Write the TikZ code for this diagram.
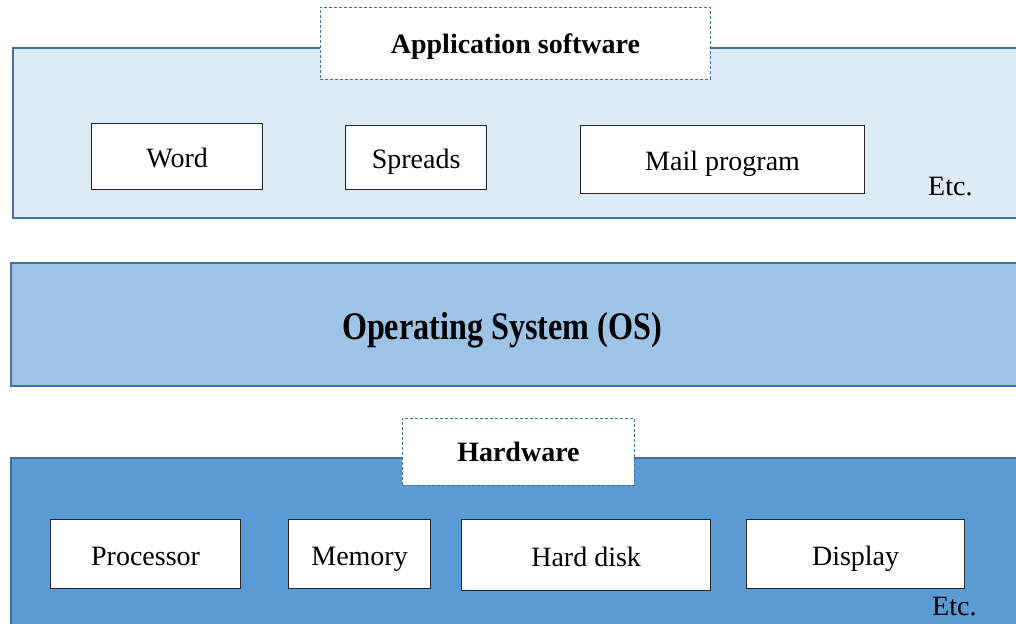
\documentclass[tikz,border=0pt]{standalone}
\usepackage{fontspec}
\setmainfont{Liberation Serif}
\definecolor{edgeblue}{HTML}{41719C}
\definecolor{appfill}{HTML}{DEEAF6}
\definecolor{osfill}{HTML}{9DC3E6}
\definecolor{hwfill}{HTML}{5B9BD5}
\tikzset{
  panel/.style={draw=edgeblue, line width=2.2pt, anchor=north west, inner sep=0pt},
  labelbox/.style={draw=edgeblue, fill=white, dashed, dash pattern=on 3pt off 2pt, line width=0.9pt, anchor=north west, inner sep=0pt, text height=22pt, text depth=2pt, font=\fontsize{28}{30}\selectfont\bfseries},
  itembox/.style={draw=black!85, fill=white, line width=1.2pt, anchor=north west, inner sep=0pt, text height=24pt, text depth=2pt, font=\fontsize{28}{30}\selectfont},
  etc/.style={anchor=base west, inner sep=0pt, font=\fontsize{28}{30}\selectfont}
}
\begin{document}
\begin{tikzpicture}[x=1pt,y=-1pt]
\useasboundingbox (0,0) rectangle (1016,623);
\clip (0,0) rectangle (1016,623);
% application layer
\node[panel, fill=appfill, minimum width=1030pt, minimum height=170pt] (app) at (12,47) {};
\node[labelbox, minimum width=390pt, minimum height=72pt] (applabel) at (320,7) {Application software};
\node[itembox, minimum width=171pt, minimum height=66pt] (word) at (91,123) {Word};
\node[itembox, minimum width=141pt, minimum height=64pt] (spreads) at (345,125) {Spreads};
\node[itembox, minimum width=284pt, minimum height=68pt] (mail) at (580,125) {Mail program};
\node[etc] (etc1) at (928,195) {Etc.};
% operating system
\node[panel, fill=osfill, minimum width=1030pt, minimum height=123pt] (os) at (10,262) {};
\node[inner sep=0pt, anchor=base] (oslabel) at (502,339) {\scalebox{0.825}[1]{\fontsize{39}{41}\selectfont\bfseries Operating System (OS)}};
% hardware layer
\node[panel, fill=hwfill, minimum width=1030pt, minimum height=200pt] (hw) at (10,457) {};
\node[labelbox, minimum width=232pt, minimum height=67pt] (hwlabel) at (402,418) {Hardware};
\node[itembox, minimum width=190pt, minimum height=69pt] (proc) at (50,519) {Processor};
\node[itembox, minimum width=142pt, minimum height=69pt] (mem) at (288,519) {Memory};
\node[itembox, minimum width=249pt, minimum height=71pt] (disk) at (461,519) {Hard disk};
\node[itembox, minimum width=218pt, minimum height=69pt] (disp) at (746,519) {Display};
\node[etc] (etc2) at (932,615) {Etc.};
\end{tikzpicture}
\end{document}
